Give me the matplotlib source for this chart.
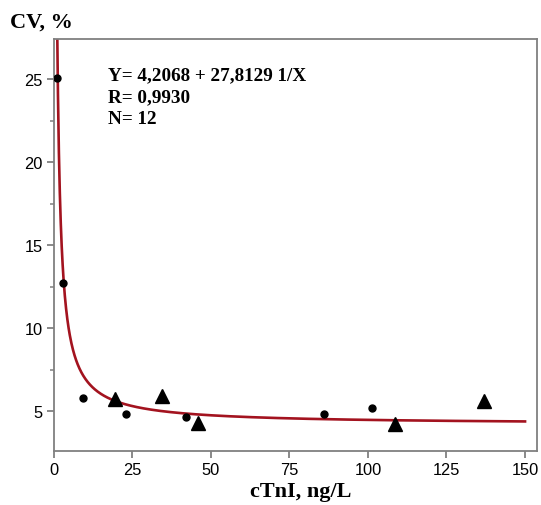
import matplotlib as mpl
import matplotlib.pyplot as plt
import numpy as np
from matplotlib.ticker import MultipleLocator

mpl.rcParams.update(
    {
        "font.family": "Liberation Sans",
        "xtick.labelsize": 11.8,
        "ytick.labelsize": 11.8,
    }
)

# calibration points, two sample groups
circle_x = [1.2, 2.9, 9.4, 23.1, 42.1, 85.9, 101.3]
circle_cv = [25.1, 12.75, 5.8, 4.86, 4.68, 4.84, 5.2]
triangle_x = [19.7, 34.6, 45.8, 108.6, 137.0]
triangle_cv = [5.76, 5.94, 4.3, 4.24, 5.6]

# hyperbolic fit Y = a + b / X
fit_a = 4.2068
fit_b = 27.8129
fit_r = "0,9930"
fit_n = 12

SERIF = "Liberation Serif"
GRAY = "#808080"


def main() -> None:
    fig = plt.figure(figsize=(5.41, 5.06), dpi=100)
    ax = fig.add_axes([0.099, 0.107, 0.893, 0.813])

    xs = np.linspace(0.8, 150, 1500)
    ax.plot(xs, fit_a + fit_b / xs, color="#a3131f", lw=1.9, zorder=2)
    ax.plot(circle_x, circle_cv, "o", color="black", ms=5, zorder=3)
    ax.plot(triangle_x, triangle_cv, "^", color="black", ms=10.5, zorder=3)

    ax.set_xlim(0, 153.7)
    ax.set_ylim(2.62, 27.4)
    ax.xaxis.set_major_locator(MultipleLocator(25))
    ax.yaxis.set_major_locator(MultipleLocator(5))
    ax.yaxis.set_minor_locator(MultipleLocator(2.5))
    ax.set_yticks([5, 10, 15, 20, 25])

    for side in ax.spines.values():
        side.set_color(GRAY)
        side.set_linewidth(1.3)
    ax.tick_params(axis="both", which="major", direction="out", length=5, width=1.3, color=GRAY, pad=3)
    ax.tick_params(axis="y", which="minor", direction="out", length=3, width=1.1, color=GRAY)

    fig.text(0.018, 0.955, "CV, %", family=SERIF, weight="bold", fontsize=16, va="center", ha="left")
    fig.text(0.555, 0.028, "cTnI, ng/L", family=SERIF, weight="bold", fontsize=16, va="center", ha="center")

    eq = f"Y= 4,2068 + 27,8129 1/X\nR= {fit_r}\nN= {fit_n}"
    ax.text(0.113, 0.935, eq, transform=ax.transAxes, family=SERIF, weight="bold",
            fontsize=13.8, va="top", ha="left", linespacing=1.38)

    fig.savefig("out.png", dpi=100)


if __name__ == "__main__":
    main()
